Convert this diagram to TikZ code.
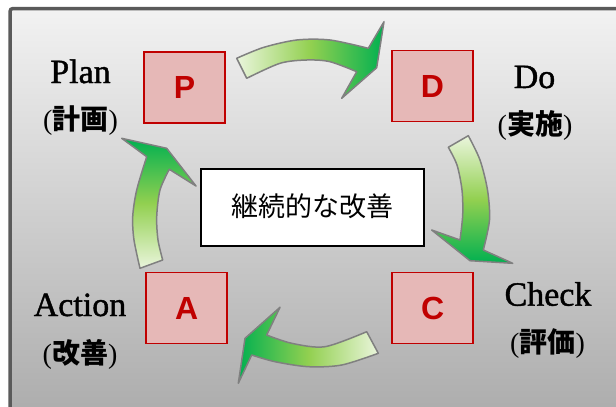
\documentclass[tikz,border=0pt]{standalone}
\usepackage{fontspec}
\setmainfont{Liberation Serif}
\newfontfamily\lserif[FakeBold=1.2]{Liberation Serif}
\newfontfamily\lsans{Liberation Sans}
\newfontfamily\cjk{Noto Sans CJK JP}
\definecolor{bgtop}{HTML}{F2F2F2}
\definecolor{bgbot}{HTML}{A8A8A8}
\definecolor{framec}{HTML}{5A5A5A}
\definecolor{boxred}{HTML}{C00000}
\definecolor{boxfill}{HTML}{E6B8B7}
\definecolor{gl}{HTML}{EAF5DC}
\definecolor{gm}{HTML}{92D050}
\definecolor{gd}{HTML}{00B050}
\definecolor{arrowline}{HTML}{808080}
\begin{document}
\begin{tikzpicture}[x=1pt,y=-1pt,
  pdcabox/.style={draw=boxred, fill=boxfill, line width=1.8pt, minimum width=81pt, minimum height=71pt, inner sep=0pt, font=\lsans\bfseries\fontsize{32}{32}\selectfont, text=boxred},
  centerbox/.style={draw=black, line width=2pt, fill=white, minimum width=223pt, minimum height=77pt, inner sep=0pt, font=\cjk\fontsize{27}{27}\selectfont},
  lbl/.style={font=\lserif\fontsize{34}{34}\selectfont, anchor=base, inner sep=0pt},
  jlbl/.style={font=\fontsize{28}{28}\selectfont, anchor=base, inner sep=0pt},
  blockarrow/.style={draw=arrowline, line width=1.5pt, line join=round}
]
\useasboundingbox (0,0) rectangle (616,407);
\clip (0,0) rectangle (616,407);
\fill[white] (0,0) rectangle (616,407);
\shade[top color=bgtop, bottom color=bgbot] (10,8.5) rectangle (640,440);
\draw[framec, line width=3.5pt, rounded corners=3pt] (10,8.5) rectangle (640,440);

% top arrow P -> D
\shadedraw[blockarrow, left color=gl, right color=gd, middle color=gm]
  (236.7,58.3) -- plot[smooth] coordinates {(236.7,58.3) (263.3,47.5) (296.7,40) (330,40) (368.3,48.3)}
  -- (384,21.7) -- (376.7,67.7) -- (341.7,98.3) -- (356.7,71.7)
  -- plot[smooth] coordinates {(356.7,71.7) (330,61.7) (306.7,60) (280,63.3) (246.7,78.3)} -- cycle;

% right arrow D -> C
\shadedraw[blockarrow, top color=gl, bottom color=gd, middle color=gm]
  (448.3,147.3) -- (468.3,135.7)
  -- plot[smooth] coordinates {(468.3,135.7) (480,160) (487.5,190) (489.5,220) (483.3,250)}
  -- (512.7,263.3) -- (470,260.7) -- (431.7,230) -- (460,240)
  -- plot[smooth] coordinates {(460,240) (462.7,215) (462,190) (457,165) (448.3,147.3)} -- cycle;

% bottom arrow C -> A
\shadedraw[blockarrow, right color=gl, left color=gd, middle color=gm]
  (366.7,331.7) -- (378.3,353.3)
  -- plot[smooth] coordinates {(378.3,353.3) (341.7,365) (308.3,366.7) (275,361.7) (251.7,355)}
  -- (238.3,383.3) -- (245,338.3) -- (280,307.3) -- (266.7,335)
  -- plot[smooth] coordinates {(266.7,335) (291.7,343.3) (325,346.7) (366.7,331.7)} -- cycle;

% left arrow A -> P
\shadedraw[blockarrow, bottom color=gl, top color=gd, middle color=gm]
  (140,268.3) -- plot[smooth] coordinates {(140,268.3) (134,240) (132.7,216.7) (136.7,190) (146.7,156.7)}
  -- (121.7,138.3) -- (166.7,148.3) -- (196,186) -- (169.3,169.3)
  -- plot[smooth] coordinates {(169.3,169.3) (160,190) (156.7,216.7) (158,240) (162.7,260)} -- cycle;

\node[pdcabox] (P) at (184.5,87.5) {P};
\node[pdcabox] (D) at (432.5,86) {D};
\node[pdcabox] (A) at (186.7,308) {A};
\node[pdcabox] (C) at (432.8,308) {C};

\node[centerbox] (K) at (312.5,207.5) {\raisebox{4pt}{継続的な改善}};

\node[lbl] (plan) at (80.5,83) {Plan};
\node[jlbl] (planj) at (80.5,129) {(\cjk\bfseries 計画\normalfont)};
\node[lbl] (do) at (534.5,88) {Do};
\node[jlbl] (doj) at (535,134) {(\cjk\bfseries 実施\normalfont)};
\node[lbl] (check) at (548,305.7) {Check};
\node[jlbl] (checkj) at (547.5,352) {(\cjk\bfseries 評価\normalfont)};
\node[lbl] (action) at (80,316) {Action};
\node[jlbl] (actionj) at (80,363) {(\cjk\bfseries 改善\normalfont)};
\end{tikzpicture}
\end{document}
